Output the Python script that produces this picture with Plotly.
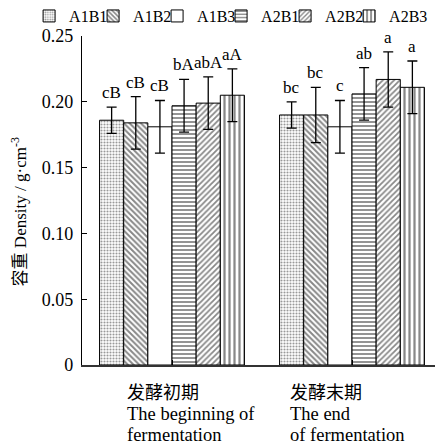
import plotly.graph_objects as go

categories = ["发酵初期", "发酵末期"]
cat_label_lines = [["发酵初期", "The beginning of", "fermentation"],
                   ["发酵末期", "The end", "of fermentation"]]
series_names = ["A1B1", "A1B2", "A1B3", "A2B1", "A2B2", "A2B3"]
y_tick_vals = [0, 0.05, 0.10, 0.15, 0.20, 0.25]
y_tick_text = ["0", "0.05", "0.10", "0.15", "0.20", "0.25"]
y_title = "容重 Density / g·cm<sup>-3</sup>"

A1B1 = [0.186, 0.190]
A1B2 = [0.184, 0.190]
A1B3 = [0.181, 0.181]
A2B1 = [0.197, 0.206]
A2B2 = [0.199, 0.217]
A2B3 = [0.205, 0.211]

A1B1_err = [0.010, 0.010]
A1B2_err = [0.020, 0.021]
A1B3_err = [0.020, 0.020]
A2B1_err = [0.020, 0.020]
A2B2_err = [0.020, 0.021]
A2B3_err = [0.020, 0.020]

A1B1_sig = ["cB", "bc"]
A1B2_sig = ["cB", "bc"]
A1B3_sig = ["cB", "c"]
A2B1_sig = ["bA", "ab"]
A2B2_sig = ["abA", "a"]
A2B3_sig = ["aA", "a"]

values = [A1B1, A1B2, A1B3, A2B1, A2B2, A2B3]
errors = [A1B1_err, A1B2_err, A1B3_err, A2B1_err, A2B2_err, A2B3_err]
sigs = [A1B1_sig, A1B2_sig, A1B3_sig, A2B1_sig, A2B2_sig, A2B3_sig]

patterns = [
    dict(shape=".", size=3, solidity=0.4, fgcolor="#333333"),
    dict(shape="\\", size=4, solidity=0.5, fgcolor="#111111"),
    dict(shape=""),
    dict(shape="-", size=4, solidity=0.45, fgcolor="#111111"),
    dict(shape="/", size=4, solidity=0.45, fgcolor="#111111"),
    dict(shape="|", size=5, solidity=0.45, fgcolor="#111111"),
]

FONT = "Liberation Serif, Times New Roman, Noto Sans CJK SC, serif"
BARGAP = 0.195
n = len(series_names)
legend_ids = ["legend" if i == 0 else "legend%d" % (i + 1) for i in range(n)]

fig = go.Figure()
for i, name in enumerate(series_names):
    fig.add_trace(go.Bar(
        name=name,
        x=list(range(len(categories))),
        y=values[i],
        legend=legend_ids[i],
        marker=dict(color="white", line=dict(color="black", width=1), pattern=patterns[i]),
        error_y=dict(type="data", array=errors[i], visible=True, color="black", thickness=1.3, width=5),
    ))

annotations = []
gw = 1 - BARGAP
for i in range(n):
    off = -gw / 2 + (i + 0.5) * gw / n
    for c in range(len(categories)):
        annotations.append(dict(
            x=c + off, y=values[i][c] + errors[i][c], xref="x", yref="y",
            text=sigs[i][c], showarrow=False, yanchor="bottom", yshift=3,
            font=dict(family=FONT, size=17, color="black"),
        ))

label_shift = [-47, -64]
line_shift = [-28, -49, -70]
line_size = [18, 18.5, 18.5]
for c, lines in enumerate(cat_label_lines):
    for k, line in enumerate(lines):
        annotations.append(dict(
            x=c, y=0, xref="x", yref="paper", xanchor="left", yanchor="middle",
            xshift=label_shift[c], yshift=line_shift[k], text=line, showarrow=False,
            font=dict(family=FONT, size=line_size[k], color="black"),
        ))

annotations.append(dict(
    x=-0.174, y=0.465, xref="paper", yref="paper", xanchor="center", yanchor="middle",
    text=y_title, textangle=-90, showarrow=False,
    font=dict(family=FONT, size=17, color="black"),
))

legend_common = dict(orientation="h", y=1.009, xanchor="left", yanchor="bottom",
                     font=dict(family=FONT, size=16), itemwidth=30,
                     traceorder="normal", bgcolor="rgba(0,0,0,0)")
legend_x0 = -0.147
legend_step = 64 / 360
legends = {lid: dict(x=legend_x0 + k * legend_step, **legend_common) for k, lid in enumerate(legend_ids)}

fig.update_layout(
    width=435, height=439,
    margin=dict(l=74, r=1, t=28, b=82, autoexpand=False),
    paper_bgcolor="white", plot_bgcolor="white",
    barmode="group", bargap=BARGAP, bargroupgap=0,
    font=dict(family=FONT, size=17, color="black"),
    showlegend=True,
    annotations=annotations,
    **legends,
)
fig.update_xaxes(
    range=[-0.5, 1.5], tickmode="array", tickvals=[0, 1], showticklabels=False,
    tickson="boundaries", ticks="inside", ticklen=5, tickcolor="black",
    showline=True, linecolor="#333333", linewidth=2, showgrid=False, zeroline=False,
    automargin=False,
)
fig.update_yaxes(
    range=[0, 0.25], tickmode="array", tickvals=y_tick_vals, ticktext=y_tick_text,
    tickfont=dict(family=FONT, size=18),
    ticks="inside", ticklen=5, tickcolor="black", ticklabelstandoff=4,
    showline=True, linecolor="black", linewidth=1.3, showgrid=False, zeroline=False,
    automargin=False,
)

fig.write_html("out.html")
